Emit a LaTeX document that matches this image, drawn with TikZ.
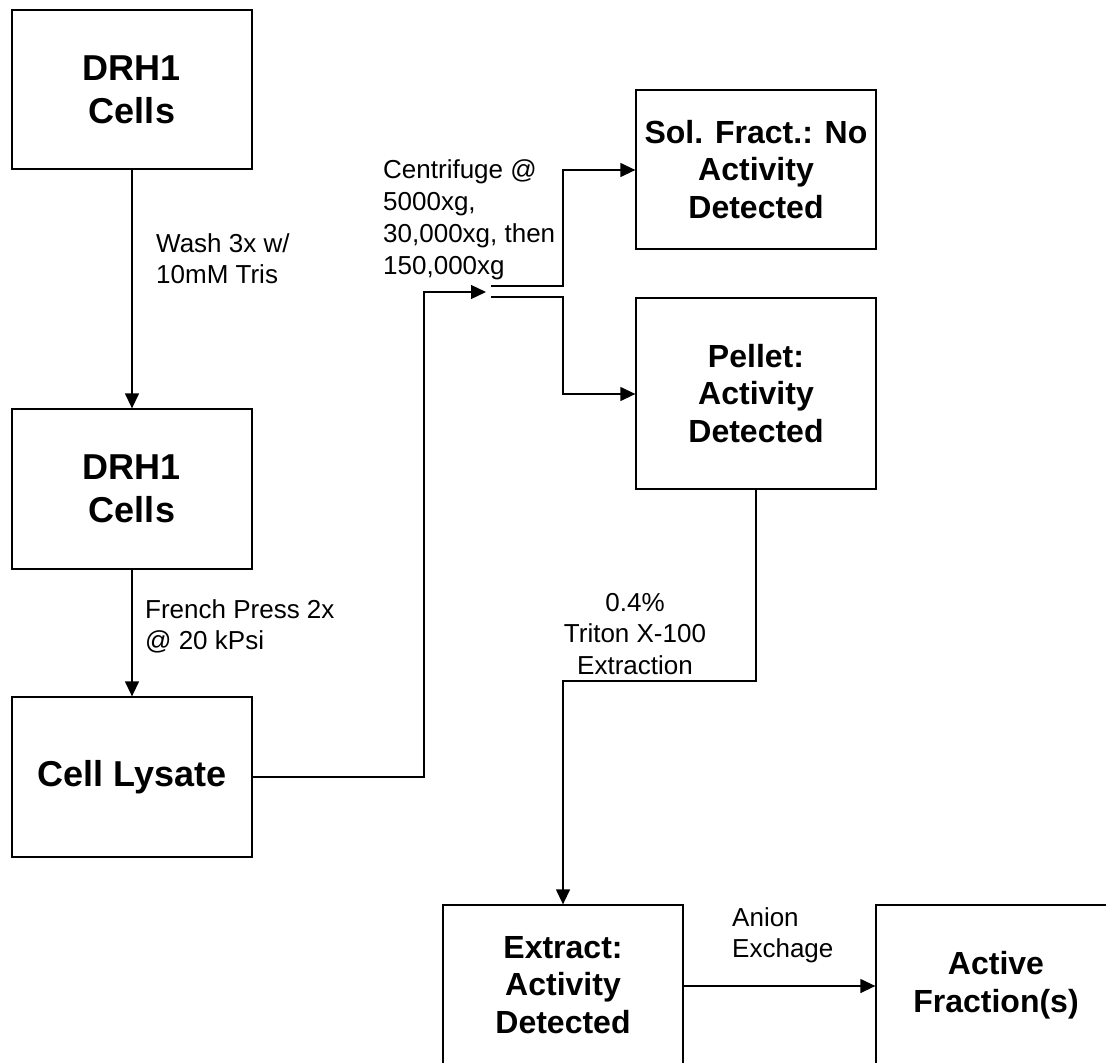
\documentclass[tikz,border=0pt]{standalone}
\usepackage{fontspec}
\setmainfont{Liberation Sans}
\usetikzlibrary{arrows.meta}
\tikzset{
  box/.style={draw=black, line width=1.3pt, minimum width=240pt, inner sep=0pt, align=center, font=\bfseries\fontsize{32}{37.5}\selectfont},
  bigbox/.style={box, font=\bfseries\fontsize{36}{43}\selectfont},
  conn/.style={line width=1.3pt, draw=black},
  arr/.style={conn, -{Triangle[length=15pt,width=14pt]}},
  lbl/.style={inner sep=0pt, align=left, font=\fontsize{26}{31.5}\selectfont},
}
\begin{document}
\begin{tikzpicture}[x=1pt,y=-1pt]
\useasboundingbox (0,0) rectangle (1106,1063);
% boxes
\node[bigbox, minimum height=159pt] (b1) at (132,89.5) {DRH1\\Cells};
\node[bigbox, minimum height=160pt] (b2) at (132,489) {DRH1\\Cells};
\node[bigbox, minimum height=160pt] (b3) at (132,777) {Cell Lysate};
\node[box, minimum height=159pt] (sol) at (756,169.5) {Sol. Fract.: No\\Activity\\Detected};
\node[box, minimum height=191pt] (pel) at (756,393.5) {Pellet:\\Activity\\Detected};
\node[box, minimum height=160pt] (ext) at (563,985) {Extract:\\Activity\\Detected};
\node[box, minimum height=160pt] (act) at (996,985) {Active\\Fraction(s)};
% split point
\coordinate (tip) at (486,292);
\coordinate (up) at (491,286);
\coordinate (lo) at (491,297);
% connectors
\draw[arr] (b1.south) -- (b2.north);
\draw[arr] (b2.south) -- (b3.north);
\draw[arr] (b3.east) -- (424,777) -- (424,292) -- (tip);
\draw[arr] (up) -- (563,286) -- (563,170) -- (sol.west |- 0,170);
\draw[arr] (lo) -- (563,297) -- (563,394) -- (pel.west |- 0,394);
\draw[arr] (pel.south) -- (756,681) -- (563,681) -- (ext.north);
\draw[arr] (ext.east |- 0,986) -- (act.west |- 0,986);
% labels
\node[lbl, anchor=north west] (lwash) at (156,233) {Wash 3x w/\\10mM Tris};
\node[lbl, anchor=north west] (lfrench) at (145,599) {French Press 2x\\@ 20 kPsi};
\node[lbl, anchor=north west, font=\fontsize{26}{32.3}\selectfont] (lcent) at (383,159) {Centrifuge @\\5000xg,\\30,000xg, then\\150,000xg};
\node[lbl, anchor=north, align=center] (ltrit) at (635,593) {0.4\%\\Triton X-100\\Extraction};
\node[lbl, anchor=north west] (lanion) at (732,907) {Anion\\Exchage};
\end{tikzpicture}
\end{document}
